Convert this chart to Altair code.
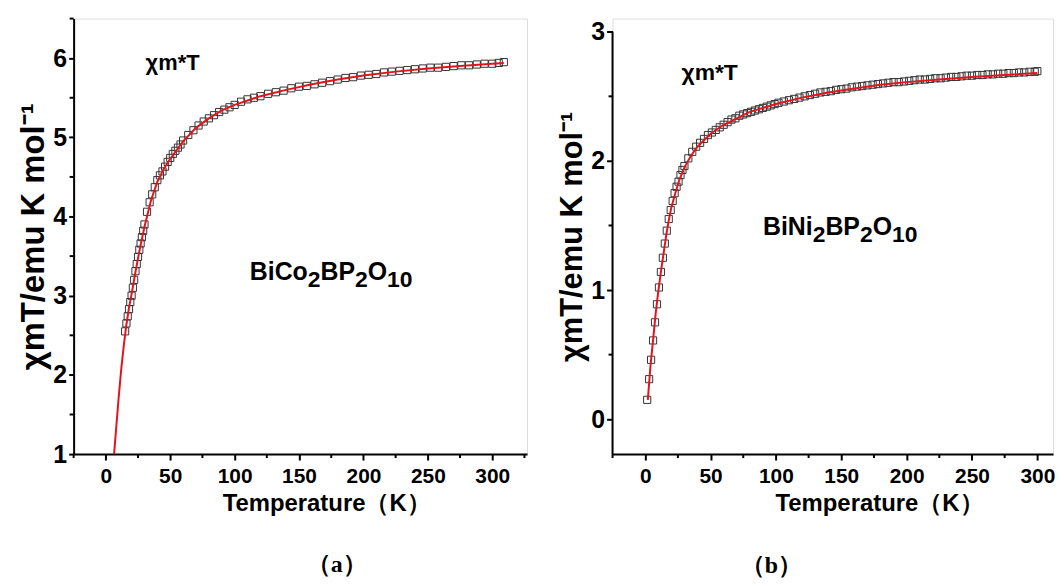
import altair as alt
import pandas as pd

# ---------------- Panel (a): BiCo2BP2O10 ----------------
a_T = [15, 16, 17, 18, 19, 20, 21, 22, 23, 24, 25, 26, 27, 28, 29, 30,
       32, 34, 36, 38, 40, 42, 44, 46, 48, 50, 52, 54, 56, 58, 60,
       64, 68, 72, 76, 80, 84, 88, 92, 96, 100, 105, 110, 115, 120,
       126, 132, 138, 144, 150, 156, 162, 168, 174, 180, 186, 192, 198,
       204, 210, 216, 222, 228, 234, 240, 246, 252, 258, 264, 270, 276,
       282, 288, 294, 300, 305, 309]
a_chiT = [2.55, 2.65, 2.74, 2.83, 2.92, 3.00, 3.10, 3.20, 3.31, 3.40, 3.49, 3.58, 3.66, 3.74, 3.82, 3.90,
          4.06, 4.18, 4.28, 4.37, 4.46, 4.52, 4.57, 4.63, 4.69, 4.74, 4.79, 4.83, 4.87, 4.91, 4.96,
          5.03, 5.09, 5.15, 5.20, 5.24, 5.28, 5.32, 5.35, 5.38, 5.41, 5.45, 5.48, 5.50, 5.52,
          5.55, 5.57, 5.59, 5.62, 5.64, 5.65, 5.67, 5.69, 5.71, 5.73, 5.75, 5.76, 5.78,
          5.79, 5.80, 5.82, 5.83, 5.84, 5.85, 5.86, 5.87, 5.88, 5.88, 5.89, 5.90, 5.91,
          5.91, 5.92, 5.93, 5.93, 5.94, 5.95]
a_fit_T = [6.4, 8, 10, 12, 14, 16, 18, 20, 23, 26, 30, 35, 40, 45, 50, 60, 70, 80, 90, 100,
           120, 140, 160, 180, 200, 225, 250, 275, 300, 309]
a_fit = [1.0, 1.32, 1.72, 2.08, 2.38, 2.64, 2.85, 3.02, 3.30, 3.56, 3.87, 4.20, 4.44, 4.60, 4.73,
         4.95, 5.12, 5.24, 5.34, 5.41, 5.52, 5.60, 5.67, 5.73, 5.78, 5.83, 5.87, 5.90, 5.93, 5.94]

# ---------------- Panel (b): BiNi2BP2O10 ----------------
b_T = [1.5, 3, 4.5, 6, 7.5, 9, 10.5, 12, 13.5, 15, 16.5, 18, 19.5, 21, 22.5, 24, 25.5, 27, 28.5, 30,
       33, 36, 39, 42, 45, 48, 51, 54, 57, 60, 63, 66, 69, 72, 75, 78, 81, 84, 87, 90, 93, 96, 99,
       102, 106, 110, 114, 118, 122, 126, 130, 134, 138, 142, 146, 150, 154, 158, 162, 166, 170,
       174, 178, 182, 186, 190, 194, 198, 202, 206, 210, 214, 218, 222, 226, 230, 234, 238, 242,
       246, 250, 254, 258, 262, 266, 270, 274, 278, 282, 286, 290, 294, 298, 300]
b_chiT = [0.15, 0.31, 0.46, 0.61, 0.75, 0.89, 1.02, 1.14, 1.25, 1.36, 1.46, 1.55, 1.62, 1.69, 1.75,
          1.80, 1.84, 1.89, 1.93, 1.96,
          2.02, 2.07, 2.11, 2.14, 2.17, 2.20, 2.22, 2.24, 2.26, 2.28, 2.30, 2.32, 2.33, 2.35, 2.36,
          2.37, 2.38, 2.39, 2.40, 2.41, 2.42, 2.43, 2.44,
          2.45, 2.46, 2.47, 2.48, 2.49, 2.50, 2.51, 2.52, 2.53, 2.535, 2.54, 2.55, 2.555, 2.56, 2.57,
          2.575, 2.58, 2.585, 2.59, 2.595, 2.60, 2.605, 2.61, 2.61, 2.615, 2.62, 2.625, 2.63, 2.63,
          2.635, 2.64, 2.64, 2.645, 2.65, 2.65, 2.655, 2.66, 2.66, 2.665, 2.665, 2.67, 2.67, 2.675,
          2.675, 2.68, 2.68, 2.685, 2.685, 2.69, 2.69, 2.695]
b_fit_T = [2, 4, 6, 8, 10, 12, 14, 16, 18, 20, 23, 26, 30, 35, 40, 50, 60, 70, 80, 90, 100,
           120, 140, 160, 180, 200, 225, 250, 275, 300]
b_fit = [0.15, 0.41, 0.61, 0.82, 0.99, 1.14, 1.28, 1.42, 1.54, 1.64, 1.75, 1.85, 1.95, 2.04, 2.11,
         2.21, 2.28, 2.33, 2.38, 2.41, 2.44, 2.49, 2.53, 2.56, 2.59, 2.61, 2.63, 2.65, 2.665, 2.68]

# tick values
x_major = [0, 50, 100, 150, 200, 250, 300]
a_x_minor = [-25, 25, 75, 125, 175, 225, 275, 325]
b_x_minor = [-25, 25, 75, 125, 175, 225, 275]
a_y_major = [1, 2, 3, 4, 5, 6]
a_y_minor = [1.5, 2.5, 3.5, 4.5, 5.5, 6.5]
b_y_major = [0, 1, 2, 3]
b_y_minor = [0.5, 1.5, 2.5]

X_TITLE = "Temperature（K）"
Y_TITLE = "χmT/emu K mol⁻¹"

FONT = "Liberation Sans"
SERIF = "Liberation Serif"
RED = "#e3141c"
SQ = "#333333"

# approximate advance widths (per 1000 em) of a bold sans font, used to lay out sub-scripted formulas
W = {"B": 722, "i": 278, "C": 722, "o": 611, "N": 722, "P": 667, "O": 778,
     "0": 556, "1": 556, "2": 556}


def tw(s, size):
    return sum(W[c] for c in s) * size / 1000.0


one = pd.DataFrame({"k": [0]})


def x_axis(title_x):
    return alt.Axis(
        values=x_major, format="d", title=X_TITLE, grid=False,
        labelFont=FONT, labelFontSize=21, labelFontWeight="bold", labelColor="black",
        labelPadding=6, labelFlush=False, labelOverlap=False,
        tickSize=6, tickWidth=2, tickColor="black", domainWidth=2, domainColor="black",
        titleFont=FONT, titleFontSize=24, titleFontWeight="bold", titleColor="black",
        titleX=title_x, titleY=57, titleBaseline="alphabetic", titleAlign="center",
    )


def y_axis(yticks, tick_size, title_size, title_pad, show_domain):
    return alt.Axis(
        values=yticks, format="d", title=Y_TITLE, grid=False, domain=show_domain,
        labelFont=FONT, labelFontSize=25, labelFontWeight="bold", labelColor="black",
        labelPadding=2, labelFlush=False, labelOverlap=False,
        tickSize=tick_size, tickWidth=2, tickColor="black", domainWidth=2, domainColor="black",
        titleFont=FONT, titleFontSize=title_size, titleFontWeight="bold", titleColor="black",
        titlePadding=title_pad,
    )


def formula_layers(pieces, x0, y0, size, sub_size, sub_dy):
    layers = []
    off = 0.0
    for txt, sub in pieces:
        fs = sub_size if sub else size
        layers.append(
            alt.Chart(one).mark_text(
                text=txt, font=FONT, fontSize=fs, fontWeight="bold", color="black",
                align="left", baseline="alphabetic", dx=off, dy=sub_dy if sub else 0,
            ).encode(x=alt.datum(x0), y=alt.datum(y0))
        )
        off += tw(txt, fs)
    return layers


def panel(T, chi, fT, fv, xdom, ydom, ymaj, xmin_t, ymin_t, w, h, title_x, ytick, ytitle_size,
          ytitle_pad, chi_label, chi_pos, chi_size, formula, f_pos, f_size, tag, tag_pos,
          axis_top=None):
    xs = alt.Scale(domain=xdom, nice=False, zero=False)
    ys = alt.Scale(domain=ydom, nice=False, zero=False)
    pts = alt.Chart(pd.DataFrame({"T": T, "v": chi})).mark_point(
        shape="square", filled=False, size=52, stroke=SQ, strokeWidth=1, opacity=1
    ).encode(
        x=alt.X("T:Q", scale=xs, axis=x_axis(title_x)),
        y=alt.Y("v:Q", scale=ys, axis=y_axis(ymaj, ytick, ytitle_size, ytitle_pad,
                                              axis_top is None)),
    )
    fit = alt.Chart(pd.DataFrame({"T": fT, "v": fv})).mark_line(
        color=RED, strokeWidth=2
    ).encode(x="T:Q", y="v:Q")
    # minor ticks (shorter, no labels)
    xminor = alt.Chart(pd.DataFrame({"T": xmin_t})).mark_tick(
        orient="vertical", size=4, thickness=2, color="black", yOffset=2, opacity=1
    ).encode(x="T:Q", y=alt.datum(ydom[0]))
    yminor = alt.Chart(pd.DataFrame({"v": ymin_t})).mark_tick(
        orient="horizontal", size=4, thickness=2, color="black", xOffset=-2, opacity=1
    ).encode(y="v:Q", x=alt.datum(xdom[0]))
    lab = alt.Chart(one).mark_text(
        text=chi_label, font=FONT, fontSize=chi_size, fontWeight="bold", color="black",
        align="center", baseline="alphabetic",
    ).encode(x=alt.datum(chi_pos[0]), y=alt.datum(chi_pos[1]))
    tg = alt.Chart(one).mark_text(
        text=tag, font=SERIF, fontSize=24, fontWeight="bold", color="black",
        align="center", baseline="middle",
    ).encode(x=alt.datum(tag_pos[0]), y=alt.datum(tag_pos[1]))
    flayers = formula_layers(formula, f_pos[0], f_pos[1], f_size, f_size - 2, 7)
    layers = [pts, fit, xminor, yminor, lab, tg] + flayers
    if axis_top is not None:
        # y axis line that stops at the top tick
        layers.append(
            alt.Chart(one).mark_rule(color="black", strokeWidth=2).encode(
                x=alt.datum(xdom[0]), y=alt.datum(ydom[0]), y2=alt.datum(axis_top)
            )
        )
    return alt.layer(*layers).properties(width=w, height=h)


left = panel(
    a_T, a_chiT, a_fit_T, a_fit, [-25, 327], [1, 6.5], a_y_major, a_x_minor, a_y_minor,
    456, 438, 254, 5, 33, 2,
    "χm*T", (51.8, 5.85), 22,
    [("BiCo", False), ("2", True), ("BP", False), ("2", True), ("O", False), ("10", True)],
    (111.8, 3.20), 25, "（a）", (179.3, -0.40),
)
right = panel(
    b_T, b_chiT, b_fit_T, b_fit, [-25, 312], [-0.27, 3.102], b_y_major, b_x_minor, b_y_minor,
    443, 438, 268, 6, 31, 2,
    "χm*T", (49.3, 2.628), 23,
    [("BiNi", False), ("2", True), ("BP", False), ("2", True), ("O", False), ("10", True)],
    (90.1, 1.423), 25, "（b）", (96.5, -1.14), axis_top=3,
)

chart = alt.hconcat(left, right, spacing=28).properties(
    padding={"left": 9, "top": 7, "right": 0, "bottom": 0}
).configure_view(stroke=None).configure(background="white")

chart.save("out.html", embed_options={"renderer": "svg", "actions": False})
